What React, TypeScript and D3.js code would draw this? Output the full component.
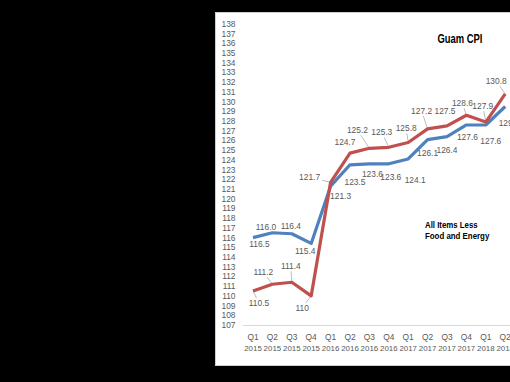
import React from "react";
import * as d3 from "d3";

const quarters = ["Q1", "Q2", "Q3", "Q4", "Q1", "Q2", "Q3", "Q4", "Q1", "Q2", "Q3", "Q4", "Q1", "Q2"];
const years = ["2015", "2015", "2015", "2015", "2016", "2016", "2016", "2016", "2017", "2017", "2017", "2017", "2018", "2018"];
const allItems = [110.5, 111.2, 111.4, 110, 121.7, 124.7, 125.2, 125.3, 125.8, 127.2, 127.5, 128.6, 127.9, 130.8];
const coreItems = [116.0, 116.5, 116.4, 115.4, 121.3, 123.5, 123.6, 123.6, 124.1, 126.1, 126.4, 127.6, 127.6, 129.5];
const yTicks = d3.range(107, 139);

// label placement offsets (layout only)
const allOffsets: [number, number, boolean][] = [
  [6, 12, true], [-9, -12, true], [-1, -16, true], [-9, 12, true], [-21, -5, true],
  [-5, -11, false], [-12, -18, true], [-7, -15, true], [-2, -14, true], [-6, -18, true],
  [-2, -15, false], [-4, -12, true], [-3, -16, true], [-9, -13, true],
];
const coreOffsets: [number, number, boolean][] = [
  [13, -11, false], [-13, 11, false], [-1, -8, false], [-6, 8, false], [10, 10, false],
  [5, 17, false], [3, 10, false], [2, 13, false], [7, 21, false], [0, 14, false],
  [0, 13, false], [1, 12, false], [5, 16, false], [4, 17, false],
];

const RED = "#C0504D";
const BLUE = "#4F81BD";
const FONT = "'Liberation Sans', Arial, sans-serif";
const FS = 8.4;
const XFS = 7.9;

export default function App() {
  const x = d3.scaleLinear().domain([0, 13]).range([253, 505.2]);
  const y = d3.scaleLinear().domain([107, 138]).range([325, 24]);
  const line = d3
    .line<number>()
    .x((_, i) => x(i))
    .y((v) => y(v));

  const leader = (px: number, py: number, lx: number, ly: number, text: string) => {
    const hw = text.length * 2.3 + 1;
    const hh = 5;
    const dx = px - lx;
    const dy = py - ly;
    const t = Math.min(dx !== 0 ? hw / Math.abs(dx) : Infinity, dy !== 0 ? hh / Math.abs(dy) : Infinity);
    if (t >= 1) return null;
    return { x1: lx + dx * t, y1: ly + dy * t, x2: px, y2: py };
  };

  const renderLabels = (vals: number[], offs: [number, number, boolean][], fmt: (v: number) => string, key: string) =>
    vals.map((v, i) => {
      const px = x(i);
      const py = y(v);
      const lx = px + offs[i][0];
      const ly = py + offs[i][1];
      const txt = fmt(v);
      const l = offs[i][2] ? leader(px, py, lx, ly, txt) : null;
      return (
        <g key={key + i}>
          {l && <line x1={l.x1} y1={l.y1} x2={l.x2} y2={l.y2} stroke="#a6a6a6" strokeWidth={0.75} />}
          <text x={lx} y={ly} dy="0.35em" textAnchor="middle" fontSize={FS} fill="#595959" fontFamily={FONT}>
            {txt}
          </text>
        </g>
      );
    });

  return (
    <div style={{ position: "fixed", left: 0, top: 0, width: 510, height: 382, background: "#000" }}>
      <svg width={510} height={382} style={{ display: "block" }}>
        <rect x={0} y={0} width={510} height={382} fill="#000" />
        <rect x={215.5} y={12.5} width={310} height={353} fill="#fff" stroke="#cfcfcf" strokeWidth={1} />
        {/* y tick labels */}
        {yTicks.map((t) => (
          <text key={t} x={235.5} y={y(t)} dy="0.35em" textAnchor="end" fontSize={FS} fill="#595959" fontFamily={FONT}>
            {t}
          </text>
        ))}
        {/* baseline */}
        <line x1={243} x2={510} y1={y(107) + 0.5} y2={y(107) + 0.5} stroke="#d9d9d9" strokeWidth={1} />
        {/* x labels */}
        {quarters.map((q, i) => (
          <g key={"x" + i}>
            <text x={x(i)} y={340.3} textAnchor="middle" fontSize={FS} fill="#595959" fontFamily={FONT}>
              {q}
            </text>
            <text x={x(i)} y={350.5} textAnchor="middle" fontSize={XFS} fill="#595959" fontFamily={FONT}>
              {years[i]}
            </text>
          </g>
        ))}
        {/* leaders + labels */}
        {renderLabels(allItems, allOffsets, (v) => String(v), "r")}
        {renderLabels(coreItems, coreOffsets, (v) => v.toFixed(1), "b")}
        {/* lines */}
        <path d={line(coreItems) || ""} fill="none" stroke={BLUE} strokeWidth={3.2} strokeLinejoin="round" />
        <path d={line(allItems) || ""} fill="none" stroke={RED} strokeWidth={3.2} strokeLinejoin="round" />
        {/* titles */}
        <text x={437.5} y={42.5} fontSize={12.5} fontWeight="bold" fill="#000" fontFamily={FONT} textLength={45} lengthAdjust="spacingAndGlyphs">
          Guam CPI
        </text>
        <text x={425} y={227.7} fontSize={9.8} fontWeight="bold" fill="#000" fontFamily={FONT} textLength={52.7} lengthAdjust="spacingAndGlyphs">
          All Items Less
        </text>
        <text x={425} y={239.3} fontSize={9.8} fontWeight="bold" fill="#000" fontFamily={FONT} textLength={64.3} lengthAdjust="spacingAndGlyphs">
          Food and Energy
        </text>
      </svg>
    </div>
  );
}
